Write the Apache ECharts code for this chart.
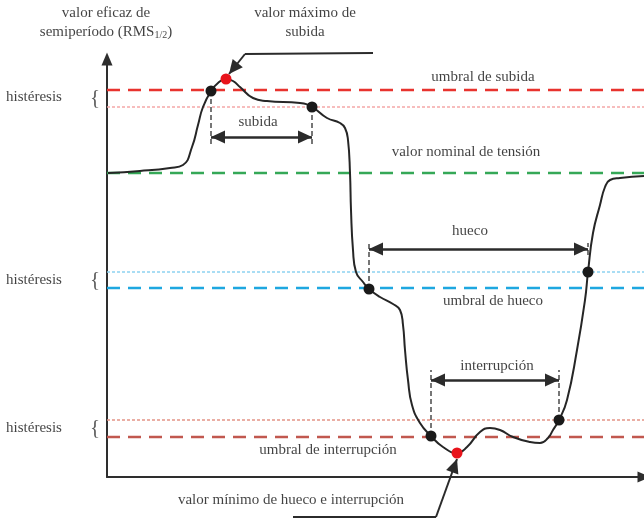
<!DOCTYPE html>
<html lang="es">
<head>
<meta charset="UTF-8">
<title>Umbrales de subida, hueco e interrupción</title>
<style>
  html, body { margin: 0; padding: 0; background: #fff; }
  #main { width: 644px; height: 518px; }
</style>
</head>
<body>
<div id="main"></div>
<script src="https://cdn.jsdelivr.net/npm/echarts@6/dist/echarts.min.js"></script>
<script>
// curva RMS1/2 (tiempo, tensión)
var curveT = [1, 33, 63, 76, 85, 91, 96, 104, 111, 119, 126, 133, 146, 160, 193, 205, 220, 233, 238, 241, 243, 244, 246, 249, 256, 262, 273, 286, 293, 296, 298, 301, 305, 313, 324, 336, 350, 360, 373, 383, 393, 406, 423, 433, 441, 446, 452, 460, 470, 478, 481, 486, 493, 498, 503, 513, 537];
var curveV = [304, 306, 309, 312, 330, 352, 370, 386, 394, 398, 396, 390, 379, 376, 374, 370, 359, 354, 349, 337, 304, 267, 227, 205, 195, 188, 180, 173, 167, 152, 127, 97, 72, 54, 41, 30, 24, 30, 45, 49, 47, 40, 35, 34, 39, 47, 57, 77, 127, 177, 205, 244, 272, 290, 297, 299, 301];

// niveles horizontales
var levelNames = ['umbral de subida', 'histéresis subida', 'valor nominal', 'histéresis hueco', 'umbral de hueco', 'histéresis interrupción', 'umbral de interrupción'];
var levelValues = [387, 370, 304, 205, 189, 57, 40];

// puntos de cruce (negros) y extremos (rojos)
var crossT = [104, 205, 262, 481, 324, 452];
var crossV = [386, 370, 188, 205, 41, 57];
var peakT = [119, 350];
var peakV = [398, 24];

// duraciones: inicio, fin, altura de la flecha
var spanNames = ['subida', 'hueco', 'interrupción'];
var spanStart = [104, 262, 324];
var spanEnd = [205, 481, 452];
var spanLevel = [340, 228, 97];

// flechas hacia el máximo y el mínimo
var pointerLegs = [[[266, 424], [138, 423]], [[186, -40], [329, -40]]];
var pointerTips = [[[138, 423], [122, 403]], [[329, -40], [350, 18]]];

// textos
var noteTexts = ['valor eficaz de', 'semiperíodo (RMS1/2)', 'valor máximo de', 'subida', 'umbral de subida', 'valor nominal de tensión', 'subida', 'hueco', 'umbral de hueco', 'interrupción', 'umbral de interrupción', 'valor mínimo de hueco e interrupción', 'histéresis', 'histéresis', 'histéresis'];
var noteT = [-1, -1, 198, 198, 376, 359, 151, 363, 386, 390, 221, 184, -73, -73, -73];
var noteV = [464, 445, 464, 445, 400, 325, 355, 246, 176, 111, 27, -23, 380, 197, 49];
var braceV = [379, 197, 49];

var levelStyles = [
    {color: '#e8332e', width: 2.5, type: [13, 8]},
    {color: '#f5a8a8', width: 1.3, type: [3, 2]},
    {color: '#35a857', width: 2.5, type: [13, 8]},
    {color: '#8dd2f1', width: 1.3, type: [3, 2]},
    {color: '#1ea7e0', width: 2.5, type: [13, 8]},
    {color: '#e49486', width: 1.3, type: [3, 2]},
    {color: '#c1584f', width: 2.5, type: [13, 8]}
];

// punta de flecha con el vértice en el centro de una caja cuadrada
var tipPath = 'path://M14,14L20.5,28L7.5,28ZM0,0M28,0';

var font = 'Liberation Serif';
var ink = '#111';

var series = [];

levelValues.forEach(function (v, i) {
    series.push({
        name: levelNames[i],
        type: 'line',
        data: [[0, v], [537, v]],
        symbol: 'none',
        clip: false,
        z: 1,
        lineStyle: levelStyles[i]
    });
});

series.push({
    name: 'RMS1/2',
    type: 'line',
    data: curveT.map(function (t, i) { return [t, curveV[i]]; }),
    symbol: 'none',
    smooth: 0.5,
    clip: false,
    z: 3,
    lineStyle: {color: '#262626', width: 2}
});

// líneas de referencia verticales discontinuas
var guides = [
    {coords: [[spanStart[0], crossV[0]], [spanStart[0], spanLevel[0] - 8]]},
    {coords: [[spanEnd[0], crossV[1]], [spanEnd[0], spanLevel[0] - 8]]},
    {coords: [[spanStart[1], crossV[2]], [spanStart[1], spanLevel[1] + 6]]},
    {coords: [[spanEnd[1], spanLevel[1] - 6], [spanEnd[1], spanLevel[1] + 6]]},
    {coords: [[spanStart[2], crossV[4]], [spanStart[2], spanLevel[2] + 10]]},
    {coords: [[spanEnd[2], crossV[5]], [spanEnd[2], spanLevel[2] + 10]]}
];
series.push({
    type: 'lines',
    coordinateSystem: 'cartesian2d',
    data: guides,
    symbol: 'none',
    clip: false,
    z: 2,
    lineStyle: {color: '#4a4a4a', width: 1.5, type: [5, 3], opacity: 1}
});

series.push({
    type: 'lines',
    coordinateSystem: 'cartesian2d',
    data: spanNames.map(function (n, i) {
        return {name: n, coords: [[spanStart[i], spanLevel[i]], [spanEnd[i], spanLevel[i]]]};
    }),
    symbol: [tipPath, tipPath],
    symbolSize: 28,
    clip: false,
    z: 4,
    lineStyle: {color: '#2b2b2b', width: 2.5, opacity: 1}
});

series.push({
    type: 'lines',
    coordinateSystem: 'cartesian2d',
    data: pointerLegs.map(function (c) { return {coords: c}; }),
    symbol: 'none',
    clip: false,
    z: 4,
    lineStyle: {color: '#2b2b2b', width: 2, opacity: 1}
});
series.push({
    type: 'lines',
    coordinateSystem: 'cartesian2d',
    data: pointerTips.map(function (c) { return {coords: c}; }),
    symbol: ['none', tipPath],
    symbolSize: 28,
    clip: false,
    z: 4,
    lineStyle: {color: '#2b2b2b', width: 2, opacity: 1}
});

series.push({
    type: 'scatter',
    data: crossT.map(function (t, i) { return [t, crossV[i]]; }),
    symbolSize: 11,
    clip: false,
    z: 5,
    itemStyle: {color: '#1a1a1a', opacity: 1}
});
series.push({
    type: 'scatter',
    data: peakT.map(function (t, i) { return [t, peakV[i]]; }),
    symbolSize: 11,
    clip: false,
    z: 5,
    itemStyle: {color: '#e8131b', opacity: 1}
});

series.push({
    type: 'scatter',
    data: noteTexts.map(function (s, i) { return {value: [noteT[i], noteV[i]], name: s}; }),
    symbolSize: 0,
    clip: false,
    z: 6,
    label: {
        show: true,
        position: 'inside',
        fontFamily: font,
        fontSize: 15,
        color: ink,
        formatter: function (p) {
            if (p.name === 'semiperíodo (RMS1/2)') return '{a|semiperíodo (RMS}{s|1/2}{a|)}';
            return '{a|' + p.name + '}';
        },
        rich: {
            a: {fontFamily: font, fontSize: 15, color: ink},
            s: {fontFamily: font, fontSize: 10, color: ink, padding: [7, 0, 0, 0]}
        }
    }
});
series.push({
    type: 'scatter',
    data: braceV.map(function (v) { return {value: [-12, v], name: '{'}; }),
    symbolSize: 0,
    clip: false,
    z: 6,
    label: {
        show: true,
        position: 'inside',
        formatter: '{b}',
        fontFamily: font,
        fontSize: 21,
        color: '#333'
    }
});

var myChart = echarts.init(document.getElementById('main'));
myChart.setOption({
    animation: false,
    backgroundColor: '#fff',
    grid: {left: 107, right: 0, top: 59, bottom: 41},
    xAxis: {
        type: 'value', min: 0, max: 537,
        axisLine: {show: true, onZero: false, symbol: ['none', 'triangle'], symbolSize: [11, 13], lineStyle: {color: '#2e2e2e', width: 2}},
        axisTick: {show: false}, axisLabel: {show: false}, splitLine: {show: false}
    },
    yAxis: {
        type: 'value', min: 0, max: 418,
        axisLine: {show: true, onZero: false, symbol: ['none', 'triangle'], symbolSize: [11, 13], lineStyle: {color: '#2e2e2e', width: 2}},
        axisTick: {show: false}, axisLabel: {show: false}, splitLine: {show: false}
    },
    series: series
});
</script>
</body>
</html>
